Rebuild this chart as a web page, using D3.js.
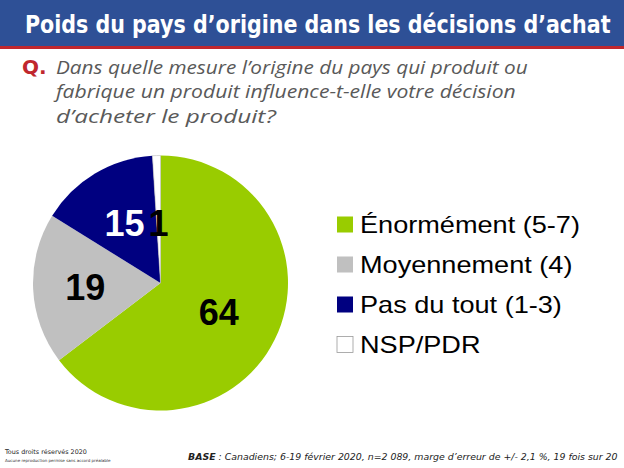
<!DOCTYPE html>
<html><head><meta charset="utf-8">
<script src="https://cdn.jsdelivr.net/npm/d3@7"></script>
<style>body{margin:0;background:#fff}svg{display:block}</style>
</head><body>
<svg id="c" width="624" height="468"></svg>
<script>
const categories = ["Énormément (5-7)", "Moyennement (4)", "Pas du tout (1-3)", "NSP/PDR"];
const values = [64, 19, 15, 1];
const colors = ["#99CC00", "#C0C0C0", "#000080", "#FFFFFF"];
const labelColors = ["#000", "#000", "#fff", "#000"];
const title = "Poids du pays d’origine dans les décisions d’achat";
const question = ["Dans quelle mesure l’origine du pays qui produit ou", "fabrique un produit influence-t-elle votre décision", "d’acheter le produit?"];

const svg = d3.select("#c");

// fit a text element to a target width by adjusting font size
function fit(sel, target) {
  const fs = parseFloat(sel.attr("font-size"));
  const len = sel.node().getComputedTextLength();
  sel.attr("font-size", fs * target / len);
  return fs * target / len;
}

// header
svg.append("rect").attr("x",0).attr("y",0).attr("width",624).attr("height",46).attr("fill","#2E5096");
svg.append("rect").attr("x",0).attr("y",46).attr("width",624).attr("height",3).attr("fill","#C0272D");
const t = svg.append("text").attr("x",25).attr("y",33).attr("fill","#fff")
  .attr("font-family","'DejaVu Sans', sans-serif").attr("font-weight","bold").attr("font-size",23).text(title);
const tfs = fit(t, 586);
const sy = Math.min(1.2, 17.5 / (0.729 * tfs));
t.attr("transform",`translate(0,33) scale(1,${sy}) translate(0,-33)`);
// question
svg.append("text").attr("x",22).attr("y",74).attr("fill","#C0272D")
  .attr("font-family","'DejaVu Sans', sans-serif").attr("font-weight","bold").attr("font-size",20).text("Q.");
const qLens = [472, 460, 220];
question.forEach((q,i)=>{
  const qt = svg.append("text").attr("x",56).attr("y",74+24.5*i).attr("fill","#595959")
    .attr("font-family","'Open Sans', sans-serif").attr("font-style","italic").attr("font-size",19).text(q);
  const len = qt.node().getComputedTextLength();
  qt.attr("transform",`translate(56,${74+24.5*i}) scale(${qLens[i]/len},1) translate(-56,${-(74+24.5*i)})`);
});

// pie
const cx = 160.5, cy = 283, r = 127.5;
const pie = d3.pie().sort(null).value(d=>d);
const arcs = pie(values);
const arc = d3.arc().innerRadius(0).outerRadius(r);
const g = svg.append("g").attr("transform",`translate(${cx},${cy})`);
g.selectAll("path").data(arcs).join("path").attr("d",arc)
  .attr("fill",(d,i)=>colors[i])
  .attr("stroke",(d,i)=>i===3?"#bbb":"none").attr("stroke-width",0.6);

const labelRad = [0.51, 0.59, 0.55, 0.47];
g.selectAll("text.lbl").data(arcs).join("text").attr("class","lbl")
  .attr("transform",(d,i)=>{const c=d3.arc().innerRadius(r*labelRad[i]).outerRadius(r*labelRad[i]).centroid(d);return `translate(${c[0]},${c[1]})`;})
  .attr("text-anchor","middle").attr("dy","0.36em")
  .attr("font-family","'Liberation Sans', Arial, sans-serif").attr("font-weight","bold").attr("font-size",36)
  .attr("fill",(d,i)=>labelColors[i]).text(d=>d.data);

// legend
const lg = svg.append("g");
categories.forEach((c,i)=>{
  const y = 224.5 + 40*i;
  lg.append("rect").attr("x",337).attr("y",y-8).attr("width",16).attr("height",16)
    .attr("fill",colors[i]).attr("stroke",i===3?"#999":"none").attr("stroke-width",0.8);
  lg.append("text").attr("transform",`translate(360,${y}) scale(1.13,1)`).attr("dy","0.36em")
    .attr("font-family","'Liberation Sans', Arial, sans-serif").attr("font-size",24).attr("fill","#000").text(c);
});

// footer
const f1 = svg.append("text").attr("x",5).attr("y",454).attr("font-family","'DejaVu Sans', sans-serif").attr("font-size",8.5).attr("fill","#222")
  .text("Tous droits réservés 2020");
fit(f1, 82);
const f2 = svg.append("text").attr("x",5).attr("y",462).attr("font-family","'DejaVu Sans', sans-serif").attr("font-size",5).attr("fill","#333")
  .text("Aucune reproduction permise sans accord préalable");
fit(f2, 106);
const base = svg.append("text").attr("x",188).attr("y",460).attr("font-family","'DejaVu Sans', sans-serif").attr("font-size",10.5)
  .attr("font-style","italic").attr("fill","#222");
base.append("tspan").attr("font-weight","bold").text("BASE");
base.append("tspan").text(" : Canadiens; 6-19 février 2020, n=2 089, marge d’erreur de +/- 2,1 %, 19 fois sur 20");
fit(base, 430);
</script>
</body></html>
